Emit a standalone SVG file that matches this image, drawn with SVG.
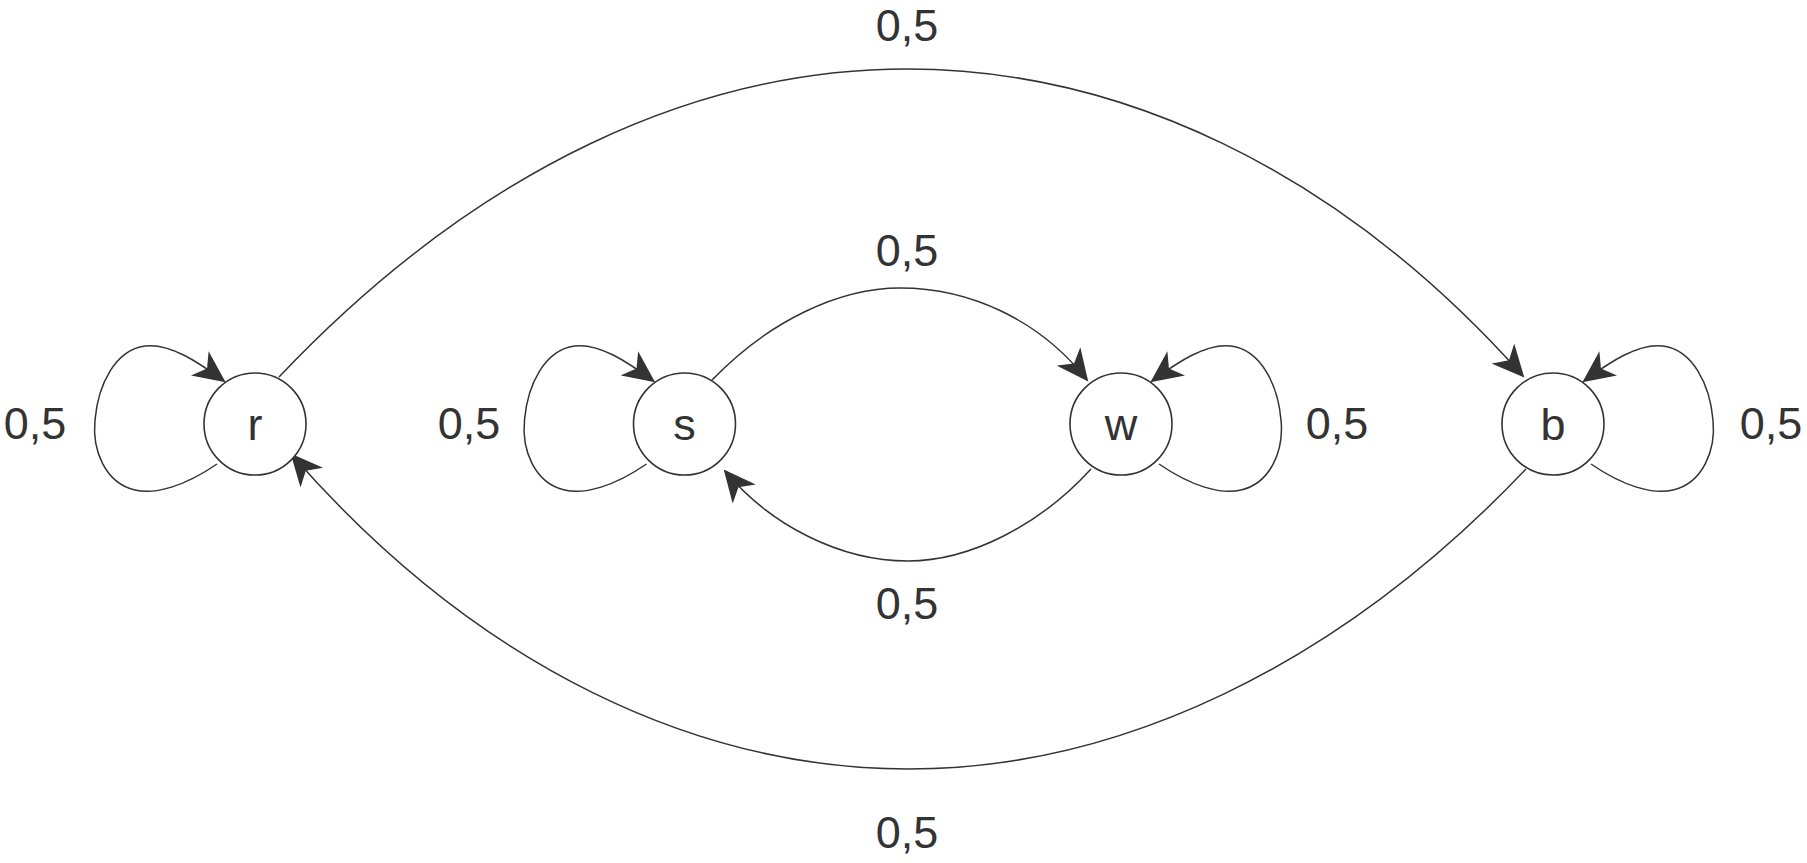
<svg xmlns="http://www.w3.org/2000/svg" width="1807" height="863" viewBox="0 0 1807 863">
<style>
.n{fill:#fff;stroke:#333;stroke-width:1.6}
.e{fill:none;stroke:#333;stroke-width:1.5;marker-end:url(#a)}
text{font-family:"Liberation Sans",Arial,sans-serif;font-size:45px;fill:#333;text-anchor:middle;dominant-baseline:central}
</style>
<defs>
<marker id="a" markerUnits="userSpaceOnUse" markerWidth="34" markerHeight="30" refX="30" refY="15" orient="auto"><path d="M0,0 L32,15 L0,30 L9,15 Z" fill="#333"/></marker>
<path id="loop" d="M217,464 C185,486 155,495 135,490 C105,483 92,450 95,420 C98,385 115,350 145,346 C170,343 198,362 224,381"/>
</defs>
<g id="connectors">
<path class="e" d="M279,377 C480,165 700,69 907,69 C1115,69 1335,165 1523,376"/>
<path class="e" d="M1526,469 C1335,670 1115,769 909,769 C700,769 480,670 292,455"/>
<path class="e" d="M712,380 C770,320 840,288 900,288 C970,288 1040,320 1087,380"/>
<path class="e" d="M1091,469 C1040,525 970,561 908,561 C840,561 770,525 725,471"/>
<use href="#loop" class="e"/>
<use href="#loop" class="e" transform="translate(429.5,0)"/>
<use href="#loop" class="e" transform="translate(1376,0) scale(-1,1)"/>
<use href="#loop" class="e" transform="translate(1808,0) scale(-1,1)"/>
</g>
<g id="r"><circle class="n" cx="255" cy="424" r="51"/><text x="255" y="424">r</text></g>
<g id="s"><circle class="n" cx="684.5" cy="424" r="51"/><text x="684.5" y="424">s</text></g>
<g id="w"><circle class="n" cx="1121" cy="424" r="51"/><text x="1121" y="424">w</text></g>
<g id="b"><circle class="n" cx="1553" cy="424" r="51"/><text x="1553" y="424">b</text></g>
<g id="labels">
<text x="35" y="423">0,5</text>
<text x="469" y="423">0,5</text>
<text x="1337" y="423">0,5</text>
<text x="1771" y="423">0,5</text>
<text x="907" y="25">0,5</text>
<text x="907" y="250">0,5</text>
<text x="907" y="603">0,5</text>
<text x="907" y="832">0,5</text>
</g>
</svg>
